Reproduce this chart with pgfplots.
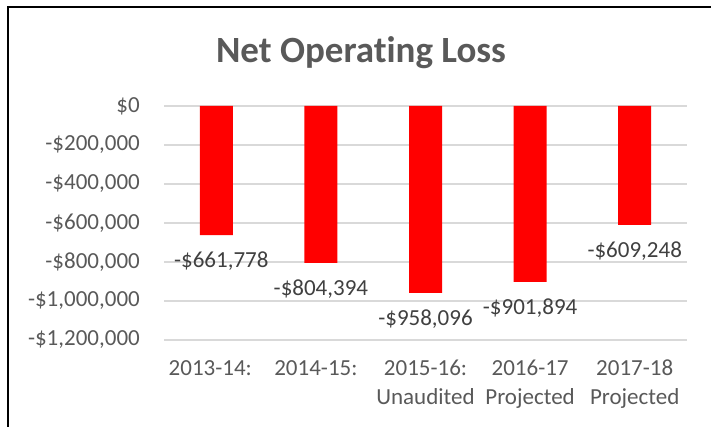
\documentclass[border=0pt]{standalone}
\usepackage{fontspec}
\setmainfont[RawFeature={-liga;-clig;-dlig;-calt}]{Carlito}
\usepackage{pgfplots}
\pgfplotsset{compat=1.18}
\definecolor{txtgray}{HTML}{595959}
\definecolor{lblgray}{HTML}{404040}
\definecolor{gridgray}{HTML}{D9D9D9}
\definecolor{barred}{HTML}{FF0000}
\begin{document}
\begin{tikzpicture}[x=1pt,y=1pt]
\useasboundingbox (0,0) rectangle (711,427);
\draw[line width=2.7pt,black] (8,-5) -- (8,420) -- (716,420);
\node[anchor=base,text=txtgray,font=\fontsize{37}{44}\selectfont\bfseries] at (361,364) {Net Operat\kern0pt ing Loss};
\begin{axis}[
  at={(164pt,87pt)}, anchor=south west,
  scale only axis, width=523pt, height=234pt,
  xmin=-0.5, xmax=4.5,
  ymin=-1200000, ymax=0,
  scaled y ticks=false,
  axis line style={draw=none},
  ymajorgrids, grid style={gridgray, line width=1.2pt},
  major tick length=0pt,
  xtick={0,1,2,3,4},
  xticklabels={{2013-14:\hspace*{12pt}},{2014-15:\hspace*{10pt}},{2015-16:\\Unaudited},{2016-17\\Projected},{2017-18\\Projected}},
  ytick={-1200000,-1000000,-800000,-600000,-400000,-200000,0},
  yticklabels={{-\$1,200,000},{-\$1,000,000},{-\$800,000},{-\$600,000},{-\$400,000},{-\$200,000},{\$0}},
  xticklabel style={align=center, anchor=north, inner sep=0pt, yshift=-20pt, text=txtgray, font=\fontsize{23}{29}\selectfont},
  yticklabel style={anchor=east, inner sep=0pt, xshift=-24pt, text=txtgray, font=\fontsize{23}{28}\selectfont},
  ybar, bar width=33pt,
  point meta=explicit symbolic,
  nodes near coords,
  every node near coord/.append style={anchor=center, yshift=-26pt, text=lblgray, font=\fontsize{23}{28}\selectfont},
  clip=false,
]
\addplot[fill=barred, draw=none] coordinates {
  (0,-661778) [\hspace*{10pt}-\$661,778]
  (1,-804394) [-\$804,394]
  (2,-958096) [-\$958,096]
  (3,-901894) [-\$901,894]
  (4,-609248) [-\$609,248]
};
\end{axis}
\end{tikzpicture}
\end{document}
